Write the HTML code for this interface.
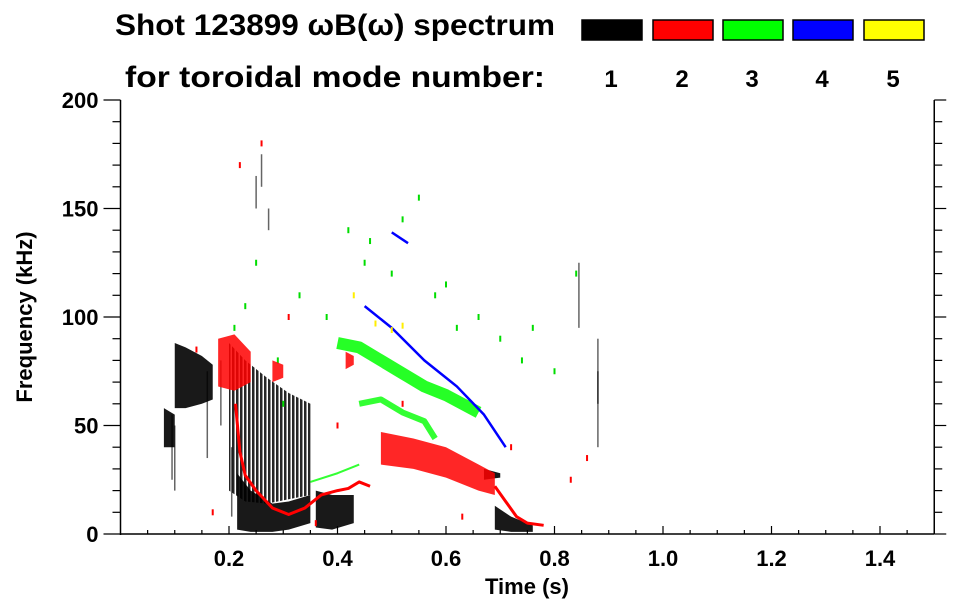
<!DOCTYPE html>
<html><head><meta charset="utf-8"><style>
body{margin:0;background:#fff;}
svg{display:block;font-family:"Liberation Sans",Arial,sans-serif;font-weight:bold;}
</style></head><body>
<svg id="chart" width="963" height="615" viewBox="0 0 963 615" xmlns="http://www.w3.org/2000/svg">
<defs>
<pattern id="stripes" width="4" height="6" patternUnits="userSpaceOnUse"><rect width="2.5" height="6" fill="#000"/></pattern>
</defs>
<text x="115" y="35" font-size="30" textLength="440" lengthAdjust="spacingAndGlyphs">Shot 123899 ωB(ω) spectrum</text>
<text x="125" y="87" font-size="30" textLength="420" lengthAdjust="spacingAndGlyphs">for toroidal mode number:</text>
<g id="legend"></g>
<g id="marks"></g>
<g id="axes"></g>
<text x="527" y="594" font-size="22" text-anchor="middle">Time (s)</text>
<text transform="translate(32,317) rotate(-90)" font-size="22" text-anchor="middle">Frequency (kHz)</text>
</svg>
<script>
// ---- data ----
const legendModes = [1, 2, 3, 4, 5];
const legendColors = ["#000000", "#ff0000", "#00ff00", "#0000ff", "#ffff00"];
const xTicks = [0.2, 0.4, 0.6, 0.8, 1.0, 1.2, 1.4];
const xTickLabels = ["0.2", "0.4", "0.6", "0.8", "1.0", "1.2", "1.4"];
const yTicks = [0, 50, 100, 150, 200];
const yTickLabels = ["0", "50", "100", "150", "200"];
// black (n=1) blobs: time, low freq, high freq
const blackBlobT = [[0.08,0.10],[0.10,0.12,0.15,0.17],[0.215,0.24,0.28,0.31,0.35],[0.36,0.39,0.43],[0.67,0.70],[0.69,0.72,0.76]];
const blackBlobLo = [[40,40],[58,58,60,62],[2,1,1,2,5],[3,2,5],[25,26],[2,1,1]];
const blackBlobHi = [[58,55],[88,86,82,78],[28,20,14,15,18],[20,18,18],[30,28],[13,8,4]];
// black striped region (n=1 coherent bursts)
const stripeT = [0.20,0.23,0.27,0.31,0.35];
const stripeLo = [20,15,14,16,18];
const stripeHi = [88,80,72,65,60];
// black isolated streaks: time, f0, f1
const blackStreakT = [0.095,0.10,0.16,0.185,0.205,0.25,0.26,0.273,0.88,0.88,0.845];
const blackStreakF0 = [25,20,35,50,8,150,160,140,40,60,95];
const blackStreakF1 = [55,50,75,80,40,165,175,150,90,75,125];
// red (n=2)
const redCurveT = [0.212,0.22,0.23,0.25,0.28,0.31,0.34,0.37,0.40,0.42,0.44,0.46];
const redCurveF = [60,38,27,20,12,9,12,18,20,21,24,22];
const redTailT = [0.69,0.71,0.73,0.75,0.78];
const redTailF = [22,15,8,5,4];
const redBlobT = [[0.18,0.21,0.24],[0.48,0.54,0.60,0.66,0.69],[0.28,0.30],[0.415,0.43]];
const redBlobLo = [[68,66,70],[32,30,26,20,18],[70,72],[76,78]];
const redBlobHi = [[90,92,84],[47,44,40,32,28],[80,78],[84,82]];
// green (n=3)
const greenBandT = [0.40,0.44,0.48,0.52,0.56,0.60,0.66];
const greenBandF = [88,86,80,74,68,64,56];
const green2T = [0.44,0.48,0.52,0.56,0.58];
const green2F = [60,62,56,52,44];
const green3T = [0.35,0.40,0.44];
const green3F = [24,28,32];
// blue (n=4)
const blueLineT = [0.45,0.50,0.56,0.62,0.67,0.71];
const blueLineF = [105,95,80,68,55,40];
const blueShortT = [0.50,0.53];
const blueShortF = [139,134];
// yellow (n=5)
const yellowT = [0.43,0.47,0.50,0.52];
const yellowF = [110,97,94,96];
// scattered dots per colour: [t,f]
const greenDotT = [0.21,0.23,0.25,0.29,0.33,0.38,0.42,0.46,0.50,0.55,0.58,0.62,0.66,0.70,0.74,0.76,0.80,0.84,0.30,0.45,0.52,0.60];
const greenDotF = [95,105,125,80,110,100,140,135,120,155,110,95,100,90,80,95,75,120,60,125,145,115];
const redDotT = [0.14,0.22,0.26,0.31,0.40,0.52,0.63,0.72,0.83,0.86,0.17,0.36];
const redDotF = [85,170,180,100,50,60,8,40,25,35,10,5];

const X0=120.5, XS=542.5, Y0=534, YS=2.17;
const xs = t => X0 + t*XS;
const ys = f => Y0 - f*YS;
const NS="http://www.w3.org/2000/svg";
function mk(tag, attrs, parent){const e=document.createElementNS(NS,tag);for(const k in attrs)e.setAttribute(k,attrs[k]);parent.appendChild(e);return e;}
const marks=document.getElementById('marks'), axes=document.getElementById('axes'), legend=document.getElementById('legend');

// legend
const boxX=[582,653,723,793,864];
legendModes.forEach((m,i)=>{
  const r=mk('rect',{x:boxX[i],y:20,width:60,height:20,fill:legendColors[i],stroke:'#000','stroke-width':1.5},legend);
  
  
  const t=mk('text',{x:boxX[i]+29,y:87,'font-size':24,'text-anchor':'middle'},legend);
  t.textContent=m;
  
  
});

function blob(ts,lo,hi,fill,name,op){
  let pts=ts.map((t,i)=>xs(t)+','+ys(hi[i]));
  for(let i=ts.length-1;i>=0;i--)pts.push(xs(ts[i])+','+ys(lo[i]));
  const p=mk('polygon',{points:pts.join(' '),fill:fill,opacity:op||0.9},marks);
  
  
}
function line(ts,fs,color,w,name,op){
  const p=mk('polyline',{points:ts.map((t,i)=>xs(t)+','+ys(fs[i])).join(' '),fill:'none',stroke:color,'stroke-width':w,'stroke-linejoin':'round',opacity:op||1},marks);
  
  
}
function dots(ts,fs,color,name){
  ts.forEach((t,i)=>{
    const r=mk('rect',{x:xs(t)-1,y:ys(fs[i])-3,width:2,height:6,fill:color},marks);
    
    
  });
}
// black
blob(stripeT,stripeLo,stripeHi,'url(#stripes)','n1-burst-region',0.85);
blackBlobT.forEach((ts,i)=>blob(ts,blackBlobLo[i],blackBlobHi[i],'#000','n1-blob',0.9));
blackStreakT.forEach((t,i)=>{
  const l=mk('line',{x1:xs(t),x2:xs(t),y1:ys(blackStreakF0[i]),y2:ys(blackStreakF1[i]),stroke:'#000','stroke-width':1.5,opacity:0.6},marks);
  
  
});
// green
line(greenBandT,greenBandF,'#00ff00',12,'n3-main-band',0.85);
line(green2T,green2F,'#00ff00',6,'n3-second-band',0.8);
line(green3T,green3F,'#00ff00',2,'n3-low-band',0.8);
dots(greenDotT,greenDotF,'#00dd00','n3-dot');
// blue
line(blueLineT,blueLineF,'#0000ff',2.5,'n4-line');
line(blueShortT,blueShortF,'#0000ff',2.5,'n4-short-line');
// red
redBlobT.forEach((ts,i)=>blob(ts,redBlobLo[i],redBlobHi[i],'#ff0000','n2-blob',0.85));
line(redCurveT,redCurveF,'#ff0000',3,'n2-curve');
line(redTailT,redTailF,'#ff0000',3,'n2-tail');
dots(redDotT,redDotF,'#ff0000','n2-dot');
// yellow
dots(yellowT,yellowF,'#ffee00','n5-dot');

// axes
mk('line',{x1:X0,x2:X0,y1:ys(200),y2:Y0+1,stroke:'#000','stroke-width':1.5},axes);
mk('line',{x1:X0,x2:xs(1.5),y1:Y0,y2:Y0,stroke:'#000','stroke-width':1.5},axes);
mk('line',{x1:xs(1.5),x2:xs(1.5),y1:ys(200),y2:Y0,stroke:'#000','stroke-width':1.5},axes);
for(let f=0;f<=200;f+=10){
  const maj=f%50===0;
  mk('line',{x1:X0-(maj?17:8),x2:X0,y1:ys(f),y2:ys(f),stroke:'#000','stroke-width':1.2},axes);
  mk('line',{x1:xs(1.5),x2:xs(1.5)+(maj?12:8),y1:ys(f),y2:ys(f),stroke:'#000','stroke-width':1.2},axes);
}
for(let k=1;k<30;k++){
  const t=k*0.05, maj=k%4===0;
  mk('line',{x1:xs(t),x2:xs(t),y1:Y0,y2:Y0-(maj?8:4),stroke:'#000','stroke-width':1.2},axes);
}
xTicks.forEach((t,i)=>{
  const e=mk('text',{x:xs(t),y:566,'font-size':22,'text-anchor':'middle'},axes);
  e.textContent=xTickLabels[i];
  
  
});
yTicks.forEach((f,i)=>{
  const e=mk('text',{x:X0-22,y:ys(f)+8,'font-size':22,'text-anchor':'end'},axes);
  e.textContent=yTickLabels[i];
  
  
});
</script>
</body></html>
